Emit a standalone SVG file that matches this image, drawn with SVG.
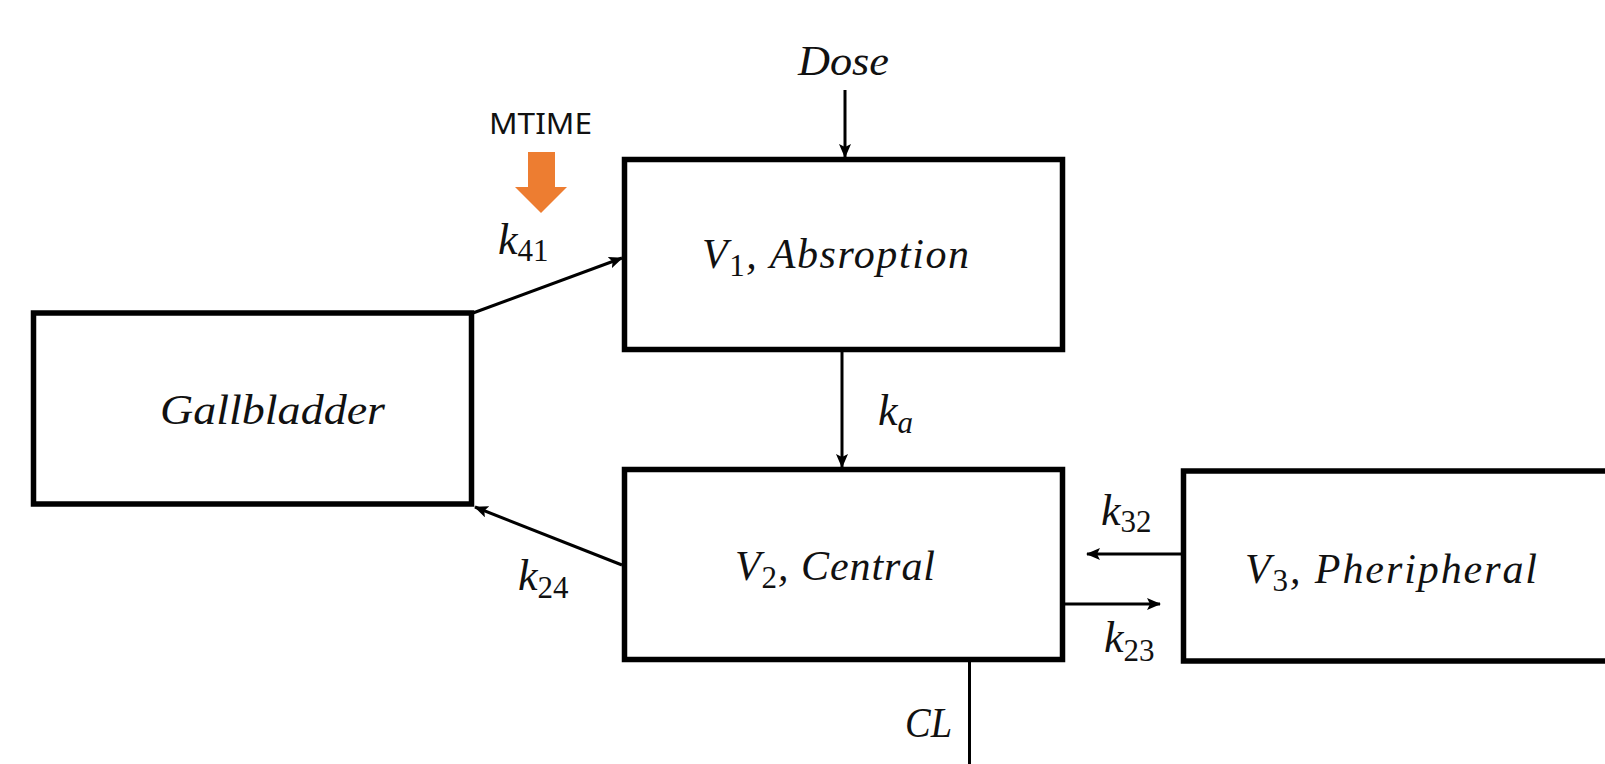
<svg xmlns="http://www.w3.org/2000/svg" width="1605" height="764" viewBox="0 0 1605 764">
<defs>
<style>
.box{fill:#fff;stroke:#000;stroke-width:5.5}
.ln{fill:none;stroke:#000;stroke-width:3}
.m{font-family:"Liberation Serif","DejaVu Serif",serif;font-style:italic;font-size:42px;fill:#111}
.k{font-size:44px}
.s{font-style:normal;font-size:31px}
.lab{font-family:"Noto Sans","Open Sans",sans-serif;font-size:29px;fill:#111}
</style>
<marker id="ah" markerUnits="userSpaceOnUse" markerWidth="14" markerHeight="12" refX="13" refY="6" orient="auto">
<path d="M0,0 L14,6 L0,12 L3,6 Z" fill="#000"/>
</marker>
</defs>
<rect width="1605" height="764" fill="#fff"/>
<g id="connectors">
<line class="ln" x1="845" y1="90" x2="845" y2="157" marker-end="url(#ah)"/>
<line class="ln" x1="842" y1="352" x2="842" y2="467" marker-end="url(#ah)"/>
<line class="ln" x1="473" y1="313" x2="622" y2="258" marker-end="url(#ah)"/>
<line class="ln" x1="622" y1="565" x2="475" y2="507" marker-end="url(#ah)"/>
<line class="ln" x1="1181" y1="554" x2="1087" y2="554" marker-end="url(#ah)"/>
<line class="ln" x1="1065" y1="604" x2="1160" y2="604" marker-end="url(#ah)"/>
<line class="ln" x1="969.5" y1="662" x2="969.5" y2="764"/>
<polygon points="528,152 555,152 555,187 567,187 541,213 515,187 528,187" fill="#ED7D31"/>
<text class="lab" x="489" y="134" textLength="103" lengthAdjust="spacingAndGlyphs">MTIME</text>
<text class="m" x="798" y="75" textLength="91" lengthAdjust="spacingAndGlyphs">Dose</text>
<text class="m k" x="498" y="254">k<tspan class="s" dy="7">41</tspan></text>
<text class="m k" x="518" y="590">k<tspan class="s" dy="8">24</tspan></text>
<text class="m k" x="878" y="425">k<tspan dy="8" font-size="31px">a</tspan></text>
<text class="m k" x="1101" y="525">k<tspan class="s" dy="7">32</tspan></text>
<text class="m k" x="1104" y="652">k<tspan class="s" dy="9">23</tspan></text>
<text class="m" x="905" y="737" textLength="47" lengthAdjust="spacingAndGlyphs">CL</text>
</g>
<g id="gallbladder">
<rect class="box" x="33.5" y="313" width="438" height="191"/>
<text class="m" x="160" y="424" textLength="225" lengthAdjust="spacingAndGlyphs">Gallbladder</text>
</g>
<g id="v1">
<rect class="box" x="624.5" y="159.5" width="438" height="190"/>
<text class="m" x="702" y="268" textLength="267" lengthAdjust="spacing">V<tspan class="s" dy="8">1</tspan><tspan dy="-8">, Absroption</tspan></text>
</g>
<g id="v2">
<rect class="box" x="624.5" y="469.5" width="438" height="190"/>
<text class="m" x="735" y="580" textLength="200" lengthAdjust="spacing">V<tspan class="s" dy="8">2</tspan><tspan dy="-8">, Central</tspan></text>
</g>
<g id="v3">
<rect class="box" x="1183.5" y="471" width="500" height="190"/>
<text class="m" x="1245" y="583" textLength="292" lengthAdjust="spacing">V<tspan class="s" dy="8">3</tspan><tspan dy="-8">, Pheripheral</tspan></text>
</g>
</svg>
